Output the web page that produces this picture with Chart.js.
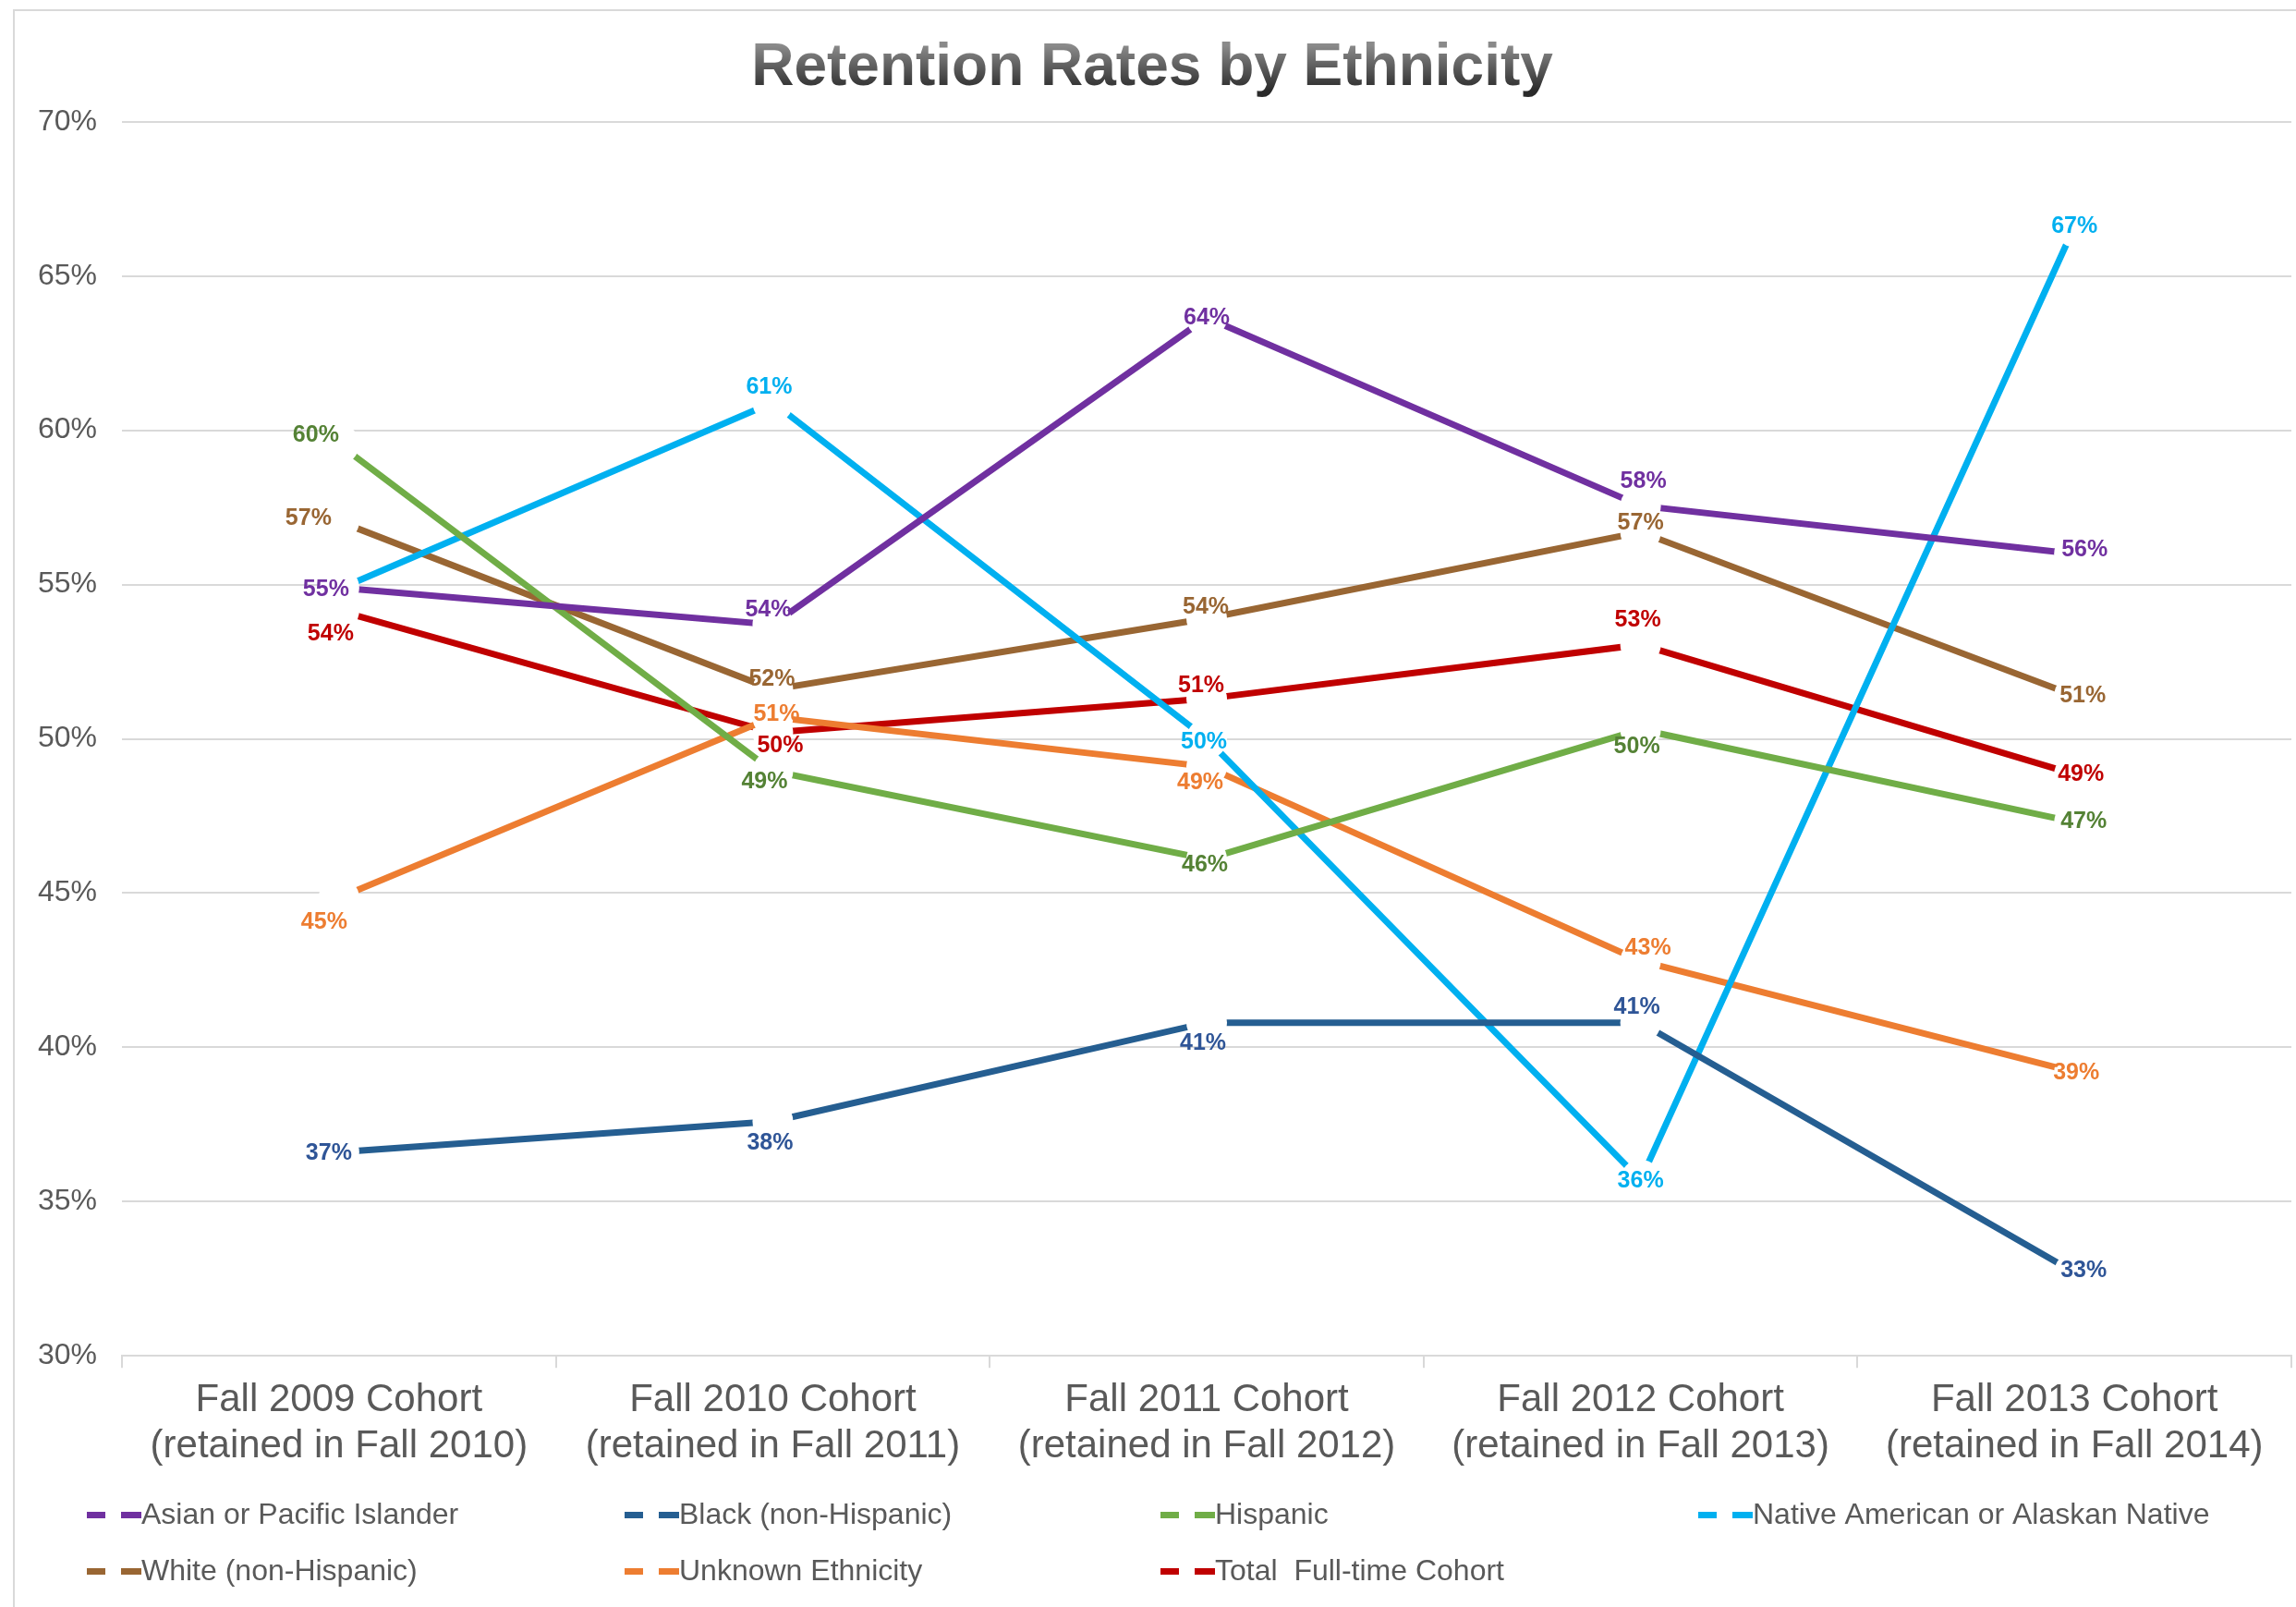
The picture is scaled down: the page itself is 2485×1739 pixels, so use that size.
<!DOCTYPE html>
<html>
<head>
<meta charset="utf-8">
<title>Retention Rates by Ethnicity</title>
<script src="https://cdn.jsdelivr.net/npm/chart.js@4.4.1/dist/chart.umd.min.js"></script>
<style>
  html, body { margin: 0; padding: 0; background: #ffffff; }
  canvas { display: block; }
</style>
</head>
<body>
<canvas id="retentionChart" width="2485" height="1739"></canvas>
<script>
// cohorts on the x axis
const cohorts = [
    ['Fall 2009 Cohort', '(retained in Fall 2010)'],
    ['Fall 2010 Cohort', '(retained in Fall 2011)'],
    ['Fall 2011 Cohort', '(retained in Fall 2012)'],
    ['Fall 2012 Cohort', '(retained in Fall 2013)'],
    ['Fall 2013 Cohort', '(retained in Fall 2014)']
];

// retention rates (%)
const asian = [54.9, 53.7, 63.65, 57.55, 56.0];
const black = [36.6, 37.6, 40.8, 40.8, 32.7];
const hispanic = [59.55, 48.95, 46.1, 50.3, 47.3];
const nativeAm = [54.85, 60.9, 50.0, 35.7, 66.6];
const white = [57.05, 51.6, 53.9, 56.7, 51.4];
const unknown = [44.85, 50.7, 49.1, 42.8, 39.2];
const total = [54.15, 50.2, 51.3, 53.05, 48.85];

const seriesNames = [
    'Asian or Pacific Islander',
    'Black (non-Hispanic)',
    'Hispanic',
    'Native American or Alaskan Native',
    'White (non-Hispanic)',
    'Unknown Ethnicity',
    'Total  Full-time Cohort'
];
const seriesValues = [asian, black, hispanic, nativeAm, white, unknown, total];

// y axis range
const yMin = 30;
const yMax = 70;
const yStep = 5;

// styling
const lineColors = ['#7030A0', '#255E91', '#70AD47', '#00B0F0', '#996633', '#ED7D31', '#C00000'];
const labelColors = ['#7030A0', '#2F5597', '#548235', '#00B0F0', '#996633', '#ED7D31', '#C00000'];
// label centre offsets from each point, px (null = no label)
const labelOffsets = [
    [[-14, 2], [-5, -16], [0, 0], [3, -26], [11, -4]],
    [[-11, 1], [-3, 24], [-4, 22], [-4, -17], [10, -2]],
    [[-25, -10], [-9, 12], [-2, 6], [-4, 19], [10, -1]],
    [null, [-4, -16], [-3, 4], [0, 1], [0, 0]],
    [[-33, -3], [-1, -11], [-1, -12], [0, -10], [9, 0]],
    [[-16, 27], [4, -3], [-7, 18], [8, -14], [2, 1]],
    [[-9, 25], [8, 14], [-6, -14], [-3, -27], [7, 0]]
];
const legendCols = [94, 676, 1256, 1838];
const legendRows = [1639, 1700];
const FONT = '"Liberation Sans", Arial, sans-serif';

const canvas = document.getElementById('retentionChart');
const ctx = canvas.getContext('2d');

// the title is drawn translated to its centre, so the gradient is relative to it
const titleGradient = ctx.createLinearGradient(0, -25, 0, 24);
titleGradient.addColorStop(0, '#8a8a8a');
titleGradient.addColorStop(1, '#2a2a2a');

// white background and thin card border
const backgroundPlugin = {
    id: 'background',
    beforeDraw(chart) {
        const c = chart.ctx;
        c.save();
        c.fillStyle = '#ffffff';
        c.fillRect(0, 0, chart.width, chart.height);
        c.strokeStyle = '#d9d9d9';
        c.lineWidth = 2;
        c.strokeRect(15, 11, chart.width + 20, chart.height + 20);
        c.restore();
    }
};

// percentage labels next to each point
const pointLabels = {
    id: 'pointLabels',
    afterDatasetsDraw(chart) {
        const c = chart.ctx;
        c.save();
        c.font = 'bold 25px ' + FONT;
        c.textAlign = 'center';
        c.textBaseline = 'middle';
        chart.data.datasets.forEach((ds, i) => {
            const meta = chart.getDatasetMeta(i);
            meta.data.forEach((pt, j) => {
                const off = labelOffsets[i][j];
                if (!off) return;
                c.fillStyle = labelColors[i];
                c.fillText(Math.round(ds.data[j]) + '%', pt.x + off[0], pt.y + off[1]);
            });
        });
        c.restore();
    }
};

// legend laid out in a 4-column grid, like the original
const gridLegend = {
    id: 'gridLegend',
    afterDraw(chart) {
        const c = chart.ctx;
        c.save();
        c.font = '32px ' + FONT;
        c.textBaseline = 'middle';
        c.textAlign = 'left';
        chart.data.datasets.forEach((ds, i) => {
            const x = legendCols[i % 4];
            const y = legendRows[Math.floor(i / 4)];
            c.fillStyle = ds.borderColor;
            c.fillRect(x, y - 3, 20, 7);
            c.fillRect(x + 37, y - 3, 22, 7);
            c.fillStyle = '#595959';
            c.fillText(ds.label, x + 59, y + 1);
        });
        c.restore();
    }
};

const datasets = seriesNames.map((name, i) => ({
    label: name,
    data: seriesValues[i],
    borderColor: lineColors[i],
    backgroundColor: lineColors[i],
    borderWidth: 7,
    tension: 0,
    fill: false,
    pointRadius: 22,
    pointBackgroundColor: '#ffffff',
    pointBorderWidth: 0,
    pointBorderColor: '#ffffff'
}));

new Chart(ctx, {
    type: 'line',
    data: {
        labels: cohorts,
        datasets: datasets
    },
    plugins: [backgroundPlugin, pointLabels, gridLegend],
    options: {
        responsive: false,
        animation: false,
        events: [],
        layout: {
            autoPadding: false,
            padding: { left: 14, right: 5, top: 0, bottom: 138 }
        },
        scales: {
            x: {
                offset: true,
                grid: {
                    offset: true,
                    drawOnChartArea: false,
                    drawTicks: true,
                    tickLength: 13,
                    color: '#d9d9d9',
                    lineWidth: 2
                },
                border: { display: true, color: '#d9d9d9', width: 2 },
                ticks: {
                    color: '#595959',
                    padding: 10,
                    maxRotation: 0,
                    autoSkip: false,
                    font: { family: FONT, size: 42, lineHeight: 1.2 }
                }
            },
            y: {
                min: yMin,
                max: yMax,
                grid: {
                    color: '#d9d9d9',
                    lineWidth: 2,
                    drawTicks: false
                },
                border: { display: false },
                ticks: {
                    stepSize: yStep,
                    color: '#595959',
                    padding: 27,
                    font: { family: FONT, size: 32 },
                    callback: v => v + '%'
                }
            }
        },
        plugins: {
            legend: { display: false },
            tooltip: { enabled: false },
            title: {
                display: true,
                text: 'Retention Rates by Ethnicity',
                color: titleGradient,
                font: { family: FONT, size: 64, weight: 'bold', lineHeight: 1.2 },
                padding: { top: 36, bottom: 19 }
            }
        }
    }
});
</script>
</body>
</html>
